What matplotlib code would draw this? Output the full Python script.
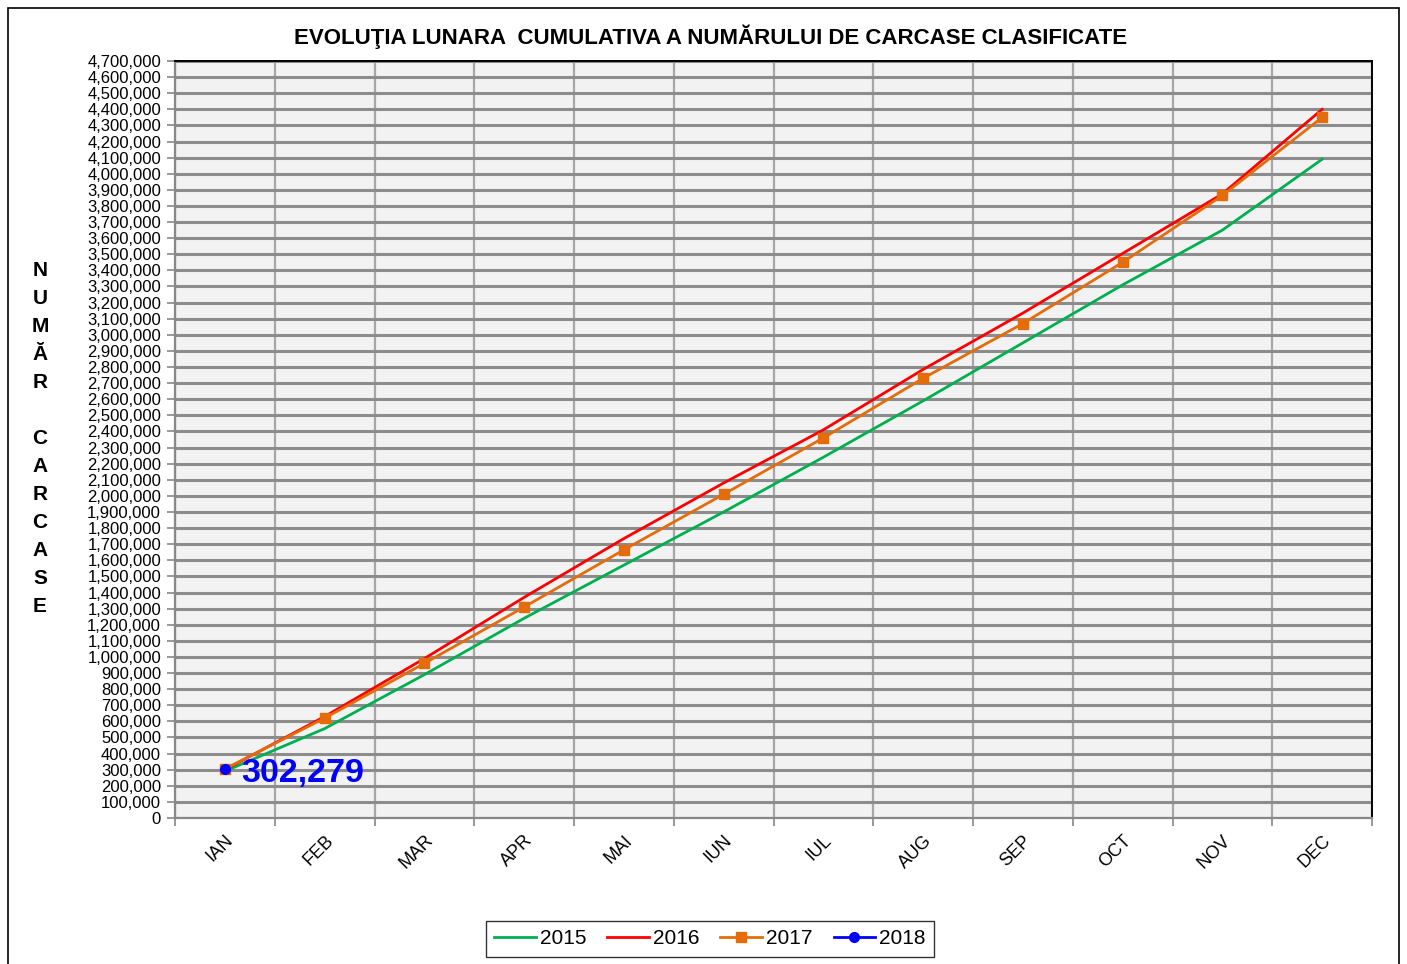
#!/usr/bin/env python3
"""Cumulative monthly evolution of classified carcasses, 2015-2018."""

import matplotlib
matplotlib.use("Agg")
import matplotlib.pyplot as plt
from matplotlib.patches import Rectangle
from matplotlib.ticker import FuncFormatter, MultipleLocator

# -------------------------------------------------
# Data
# -------------------------------------------------
months = ["IAN", "FEB", "MAR", "APR", "MAI", "IUN",
          "IUL", "AUG", "SEP", "OCT", "NOV", "DEC"]

y2015 = [290000, 555000, 890000, 1240000, 1570000, 1900000,
         2240000, 2590000, 2950000, 3310000, 3650000, 4090000]
y2016 = [300000, 630000, 990000, 1370000, 1735000, 2080000,
         2410000, 2785000, 3135000, 3505000, 3875000, 4400000]
y2017 = [305000, 620000, 960000, 1310000, 1665000, 2010000,
         2360000, 2730000, 3070000, 3450000, 3865000, 4350000]
y2018 = [302279]

series_labels = ["2015", "2016", "2017", "2018"]

FONT = ["Liberation Sans", "DejaVu Sans"]


def thousands(v, _pos):
    return f"{int(round(v)):,}"


def main():
    plt.rcParams["font.family"] = FONT

    fig = plt.figure(figsize=(14.07, 9.64), dpi=100)
    ax = fig.add_axes([175 / 1407, 1 - 818 / 964, (1372 - 175) / 1407, (818 - 61) / 964])

    # outer chart border
    fig.patches.append(Rectangle((8 / 1407, -0.05), (1399 - 8) / 1407, 1.05 - 8 / 964,
                                 transform=fig.transFigure, fill=False,
                                 edgecolor="black", linewidth=1.2))

    x = list(range(len(months)))
    ax.set_facecolor("#f2f2f2")

    ax.plot(x, y2015, color="#00b050", linewidth=2.0, label=series_labels[0], zorder=3)
    ax.plot(x, y2016, color="#ff0000", linewidth=2.0, label=series_labels[1], zorder=3)
    ax.plot(x, y2017, color="#e46c0a", linewidth=2.0, marker="s", markersize=7,
            label=series_labels[2], zorder=4)
    ax.plot(x[:len(y2018)], y2018, color="#0000ff", linewidth=2.0, marker="o",
            markersize=7, label=series_labels[3], zorder=5)

    ax.annotate(f"{y2018[-1]:,}", xy=(0, y2018[-1]), xytext=(12, -3),
                textcoords="offset points", color="#0000ff", fontsize=24.5,
                fontweight="bold", va="center", ha="left", zorder=6)

    ax.set_xlim(-0.5, len(months) - 0.5)
    ax.set_ylim(0, 4700000)
    ax.yaxis.set_major_locator(MultipleLocator(100000))
    ax.yaxis.set_major_formatter(FuncFormatter(thousands))

    ax.set_xticks(x)
    ax.set_xticklabels(months, rotation=45, ha="right", va="top",
                       rotation_mode="anchor", fontsize=13)
    ax.set_xticks([i - 0.5 for i in range(len(months) + 1)], minor=True)
    ax.tick_params(axis="x", which="major", length=0, pad=10)
    ax.tick_params(axis="x", which="minor", length=6, color="#888888", width=1.2)
    ax.tick_params(axis="y", length=6, color="#888888", width=1.2, labelsize=12, pad=4)

    ax.grid(True, axis="y", which="major", color="#8c8c8c", linewidth=2.2, zorder=1)
    ax.grid(True, axis="x", which="minor", color="#a6a6a6", linewidth=1.6, zorder=1)
    ax.set_axisbelow(True)

    for side in ("left", "bottom"):
        ax.spines[side].set_color("#888888")
        ax.spines[side].set_linewidth(1.6)
    for side in ("top", "right"):
        ax.spines[side].set_color("black")
        ax.spines[side].set_linewidth(1.4)

    fig.text(711 / 1407, 1 - 37 / 964,
             "EVOLUŢIA LUNARA  CUMULATIVA A NUMĂRULUI DE CARCASE CLASIFICATE",
             ha="center", va="center", fontsize=16, fontweight="bold",
             family=["Liberation Sans Narrow", "Liberation Sans", "DejaVu Sans"])

    fig.text(40 / 1407, 1 - 439 / 964, "\n".join("NUMĂR CARCASE"),
             ha="center", va="center", fontsize=15, fontweight="bold",
             linespacing=1.6)

    leg = ax.legend(loc="center", bbox_to_anchor=(710 / 1407, 1 - 939 / 964),
                    bbox_transform=fig.transFigure, ncol=4, fontsize=15,
                    frameon=True, fancybox=False, edgecolor="black",
                    handlelength=2.0, handletextpad=0.2, columnspacing=1.0,
                    borderpad=0.4)
    leg.get_frame().set_linewidth(1.0)

    fig.savefig("out.png", dpi=100)
    plt.close(fig)


if __name__ == "__main__":
    main()
